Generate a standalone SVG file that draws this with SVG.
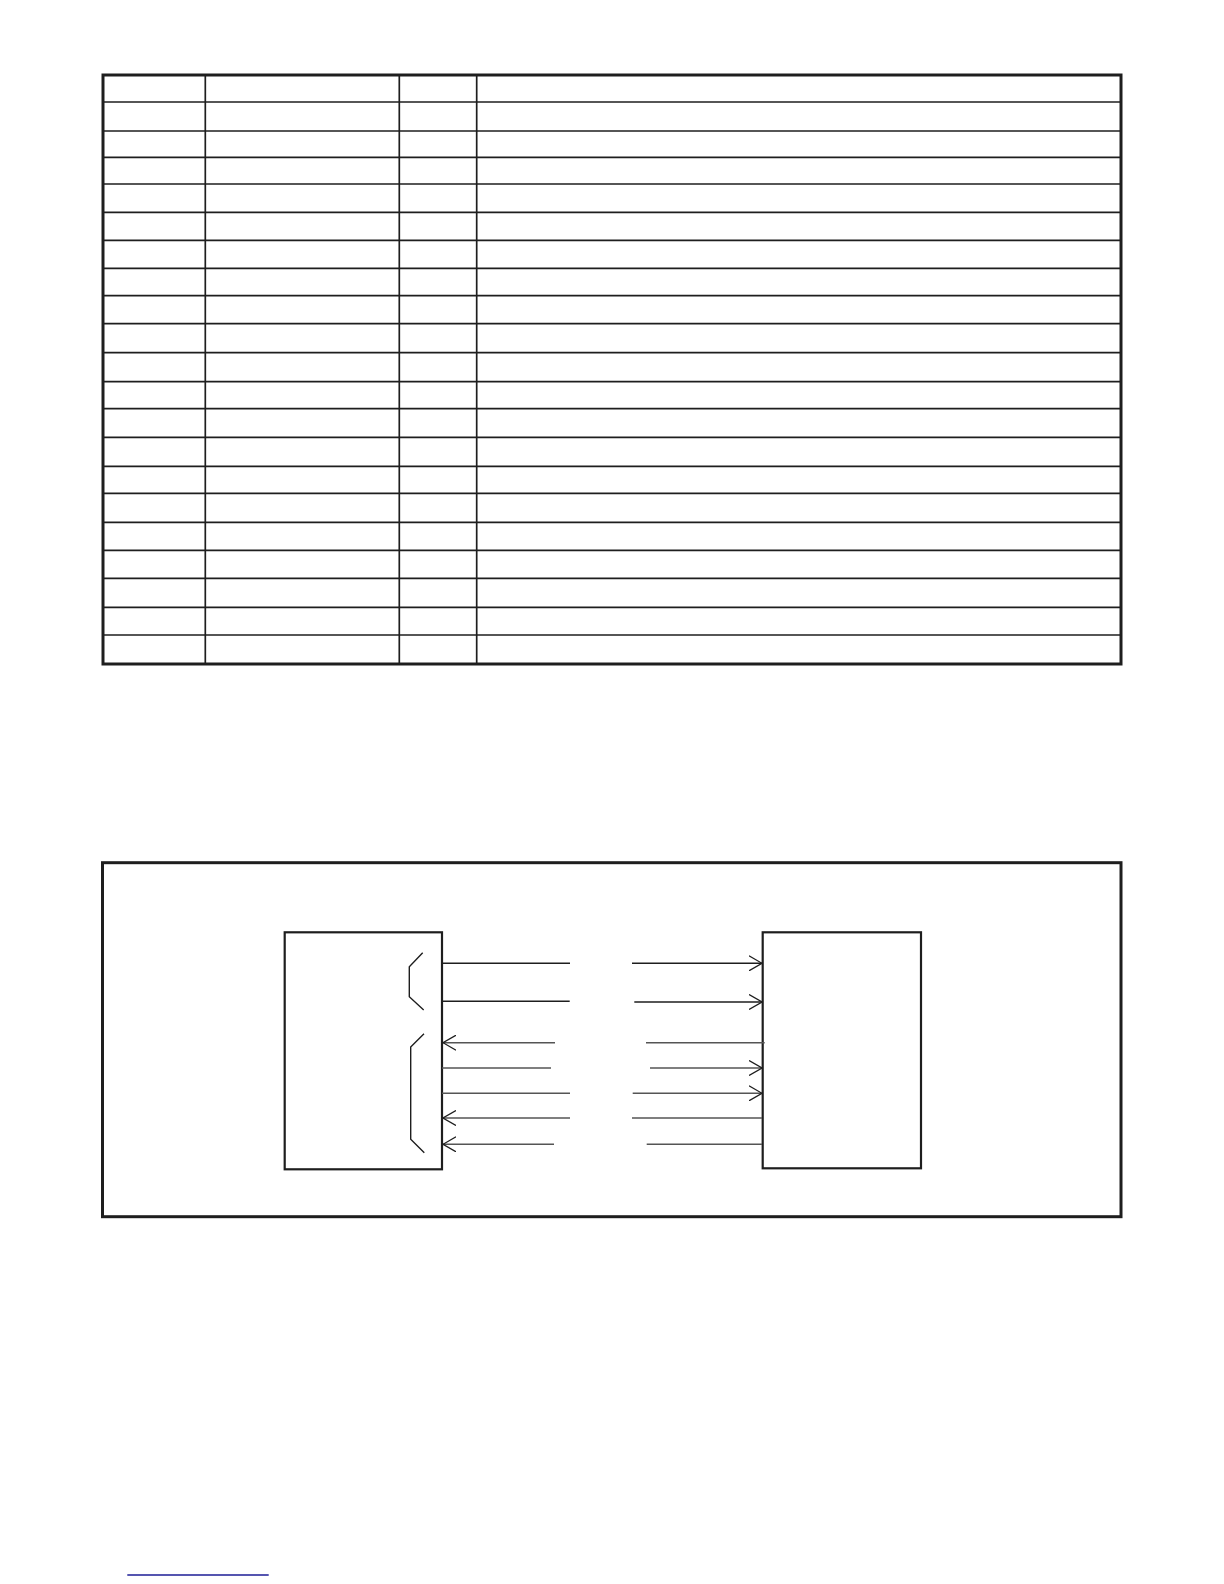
<svg xmlns="http://www.w3.org/2000/svg" width="1224" height="1584" viewBox="0 0 1224 1584">
<style>
.outer{fill:none;stroke:#1e1e1e;stroke-width:3}
.grid line{stroke:#1e1e1e;stroke-width:1.7}
.box{fill:#fff;stroke:#1e1e1e;stroke-width:2.2}
.dk{stroke:#1e1e1e;stroke-width:1.4;fill:none}
.gr{stroke:#555;stroke-width:1.4;fill:none}
</style>
<defs>
<marker id="ar" viewBox="0 0 14 16" refX="13" refY="8" markerWidth="14" markerHeight="16" markerUnits="userSpaceOnUse" orient="auto">
<path d="M0,0.5 L13,8 L0,15.5" fill="none" stroke="#1e1e1e" stroke-width="1.3"/>
</marker>
</defs>
<rect width="1224" height="1584" fill="#fff"/>
<g id="table">
<g class="grid">
<line x1="205.3" y1="75" x2="205.3" y2="664"/>
<line x1="399.3" y1="75" x2="399.3" y2="664"/>
<line x1="476.7" y1="75" x2="476.7" y2="664"/>
<line x1="103" y1="102" x2="1121" y2="102"/>
<line x1="103" y1="131" x2="1121" y2="131"/>
<line x1="103" y1="157.3" x2="1121" y2="157.3"/>
<line x1="103" y1="184" x2="1121" y2="184"/>
<line x1="103" y1="212.3" x2="1121" y2="212.3"/>
<line x1="103" y1="240.3" x2="1121" y2="240.3"/>
<line x1="103" y1="268.3" x2="1121" y2="268.3"/>
<line x1="103" y1="295.7" x2="1121" y2="295.7"/>
<line x1="103" y1="323.7" x2="1121" y2="323.7"/>
<line x1="103" y1="352.7" x2="1121" y2="352.7"/>
<line x1="103" y1="381.7" x2="1121" y2="381.7"/>
<line x1="103" y1="408.7" x2="1121" y2="408.7"/>
<line x1="103" y1="437.3" x2="1121" y2="437.3"/>
<line x1="103" y1="466.3" x2="1121" y2="466.3"/>
<line x1="103" y1="493.3" x2="1121" y2="493.3"/>
<line x1="103" y1="522.3" x2="1121" y2="522.3"/>
<line x1="103" y1="550.3" x2="1121" y2="550.3"/>
<line x1="103" y1="578.3" x2="1121" y2="578.3"/>
<line x1="103" y1="607.3" x2="1121" y2="607.3"/>
<line x1="103" y1="635" x2="1121" y2="635"/>
</g>
<rect class="outer" x="103" y="75" width="1018" height="589"/>
</g>
<g id="frame">
<rect class="outer" x="102.5" y="862.7" width="1018.5" height="354"/>
</g>
<g id="left-box">
<rect class="box" x="284.7" y="932.3" width="157.3" height="237"/>
<path class="dk" d="M422.7,952.7 L409.3,966.7 L409.3,996.7 L423.7,1010"/>
<path class="dk" d="M424,1033.7 L410.7,1047 L410.7,1139.3 L424.3,1152.7"/>
</g>
<g id="right-box">
<rect class="box" x="762.7" y="932.3" width="158.3" height="236"/>
</g>
<g id="connectors">
<line class="dk" x1="442" y1="963.3" x2="570" y2="963.3"/>
<line class="dk" x1="632" y1="963.3" x2="762" y2="963.3" marker-end="url(#ar)"/>
<line class="dk" x1="442" y1="1001.3" x2="569.7" y2="1001.3"/>
<line class="dk" x1="634.3" y1="1002" x2="762" y2="1002" marker-end="url(#ar)"/>
<line class="gr" x1="555" y1="1042.7" x2="443" y2="1042.7" marker-end="url(#ar)"/>
<line class="gr" x1="646" y1="1042.7" x2="764.7" y2="1042.7"/>
<line class="gr" x1="442" y1="1068" x2="551" y2="1068"/>
<line class="gr" x1="650" y1="1068" x2="762" y2="1068" marker-end="url(#ar)"/>
<line class="gr" x1="442" y1="1093.3" x2="570" y2="1093.3"/>
<line class="gr" x1="632.7" y1="1093.3" x2="762" y2="1093.3" marker-end="url(#ar)"/>
<line class="gr" x1="570" y1="1118" x2="443" y2="1118" marker-end="url(#ar)"/>
<line class="gr" x1="632" y1="1118" x2="762" y2="1118"/>
<line class="gr" x1="554" y1="1144.3" x2="443" y2="1144.3" marker-end="url(#ar)"/>
<line class="gr" x1="646.7" y1="1144.3" x2="762" y2="1144.3"/>
</g>
<line x1="127.3" y1="1575" x2="268.7" y2="1575" stroke="#1c1c96" stroke-width="1.3"/>
</svg>
